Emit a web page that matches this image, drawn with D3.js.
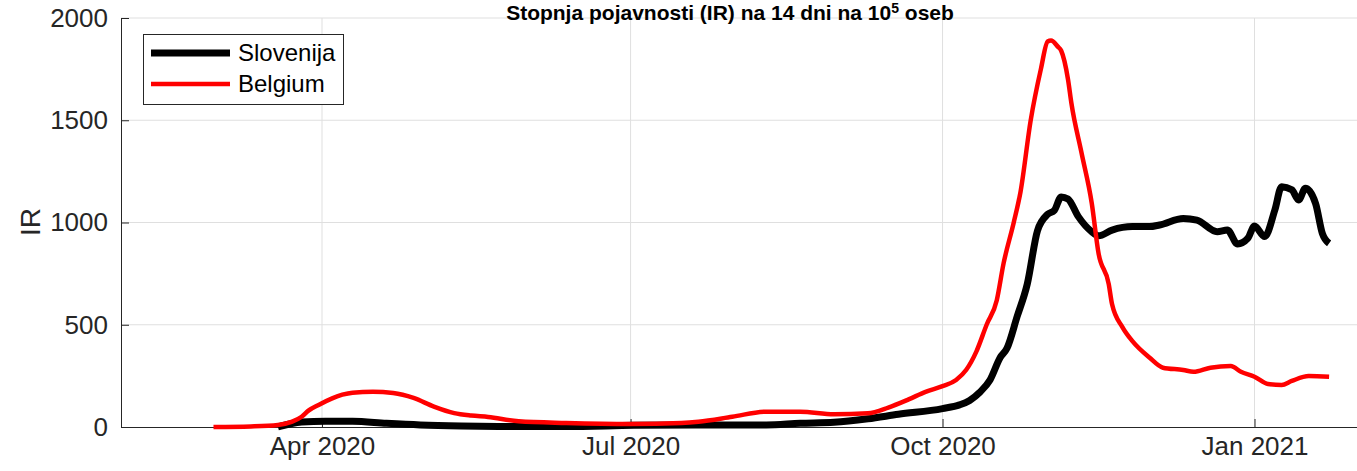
<!DOCTYPE html>
<html>
<head>
<meta charset="utf-8">
<script src="https://cdn.jsdelivr.net/npm/d3@7"></script>
<style>
  body { margin: 0; background: #fff; }
  svg { display: block; font-family: "Liberation Sans", Arial, sans-serif; }
  .tick text { fill: #262626; font-size: 26px; }
  .tick line { stroke: #262626; }
  .domain { stroke: #262626; }
</style>
</head>
<body>
<script>
// data
var sloDates = ["2020-03-19", "2020-03-26", "2020-04-02", "2020-04-10", "2020-04-20", "2020-04-30",
  "2020-05-12", "2020-05-23", "2020-06-12", "2020-07-02", "2020-07-21", "2020-08-10", "2020-08-20",
  "2020-08-30", "2020-09-09", "2020-09-18", "2020-10-01", "2020-10-06", "2020-10-09", "2020-10-12",
  "2020-10-15", "2020-10-18", "2020-10-20", "2020-10-23", "2020-10-26", "2020-10-29", "2020-11-01",
  "2020-11-03", "2020-11-05", "2020-11-07", "2020-11-10", "2020-11-14", "2020-11-16", "2020-11-20",
  "2020-11-26", "2020-12-01", "2020-12-04", "2020-12-11", "2020-12-15", "2020-12-21", "2020-12-24",
  "2020-12-27", "2020-12-30", "2021-01-01", "2021-01-04", "2021-01-07", "2021-01-09", "2021-01-12",
  "2021-01-14", "2021-01-16", "2021-01-19", "2021-01-21", "2021-01-23"];
var sloValues = [0, 24, 28, 28, 18, 10,
  5, 3, 2, 8, 10, 10, 18,
  23, 40, 62, 90, 108, 130, 170,
  230, 340, 385, 540, 700, 960, 1040,
  1060, 1125, 1115, 1030, 955, 935, 963,
  980, 980, 988, 1020, 1012, 955, 963,
  895, 922, 983, 931, 1061, 1175, 1160,
  1110, 1167, 1094, 947, 898];

var belDates = ["2020-02-29", "2020-03-11", "2020-03-19", "2020-03-23", "2020-03-26", "2020-03-28",
  "2020-03-31", "2020-04-04", "2020-04-07", "2020-04-10", "2020-04-16", "2020-04-22", "2020-04-28",
  "2020-05-04", "2020-05-10", "2020-05-15", "2020-05-20", "2020-05-29", "2020-06-12", "2020-07-01",
  "2020-07-16", "2020-07-21", "2020-07-31", "2020-08-10", "2020-08-20", "2020-08-30", "2020-09-09",
  "2020-09-15", "2020-09-21", "2020-09-26", "2020-10-01", "2020-10-05", "2020-10-08", "2020-10-11",
  "2020-10-14", "2020-10-17", "2020-10-19", "2020-10-22", "2020-10-24", "2020-10-27", "2020-10-30",
  "2020-11-01", "2020-11-02", "2020-11-04", "2020-11-05", "2020-11-07", "2020-11-08", "2020-11-11",
  "2020-11-14", "2020-11-16", "2020-11-19", "2020-11-20", "2020-11-23", "2020-11-26", "2020-12-01",
  "2020-12-05", "2020-12-11", "2020-12-14", "2020-12-19", "2020-12-25", "2020-12-28", "2021-01-01",
  "2021-01-05", "2021-01-09", "2021-01-12", "2021-01-17", "2021-01-23"];
var belValues = [0, 3, 10, 25, 50, 80,
  108, 140, 158, 168, 172, 166, 142,
  100, 68, 56, 49, 28, 20, 15,
  20, 26, 50, 75, 75, 62, 67,
  95, 135, 172, 200, 230, 280, 370,
  500, 620, 800, 1000, 1150, 1500, 1750,
  1885, 1890, 1860, 1840, 1700, 1584, 1340,
  1095, 850, 700, 600, 490, 420, 340,
  290, 279, 270, 290, 298, 270, 246,
  210, 205, 225, 249, 246];

var xTicks = ["2020-04-01", "2020-07-01", "2020-10-01", "2021-01-01"];
var yTicks = [0, 500, 1000, 1500, 2000];
var seriesNames = ["Slovenija", "Belgium"];

var svgWidth = 1357;
var svgHeight = 471;

var margin = {
  top: 18,
  right: 0,
  bottom: 44,
  left: 121
};

var width = svgWidth - margin.left - margin.right;
var height = svgHeight - margin.top - margin.bottom;

var parseDate = d3.timeParse("%Y-%m-%d");

var svg = d3.select("body")
  .append("svg")
  .attr("width", svgWidth)
  .attr("height", svgHeight);

var chartGroup = svg.append("g")
  .attr("transform", `translate(${margin.left}, ${margin.top})`);

// x scale: Apr 1 sits at 322px, Jan 1 at 1254.5px in the picture
var xScale = d3.scaleTime()
  .domain([parseDate("2020-04-01"), parseDate("2021-01-01")])
  .range([322 - margin.left, 1254.5 - margin.left]);
xScale.domain([xScale.invert(0), xScale.invert(width + 2)]).range([0, width + 2]);

var yScale = d3.scaleLinear()
  .domain([0, 2000])
  .range([height, 0]);

// grid
chartGroup.append("g")
  .selectAll("line")
  .data(xTicks.map(parseDate))
  .enter()
  .append("line")
  .attr("x1", d => xScale(d))
  .attr("x2", d => xScale(d))
  .attr("y1", 0)
  .attr("y2", height)
  .attr("stroke", "#dfdfdf");

chartGroup.append("g")
  .selectAll("line")
  .data(yTicks.slice(1))
  .enter()
  .append("line")
  .attr("x1", 0)
  .attr("x2", width + 2)
  .attr("y1", d => yScale(d))
  .attr("y2", d => yScale(d))
  .attr("stroke", "#dfdfdf");

// axes, ticks point inwards
var bottomAxis = d3.axisBottom(xScale)
  .tickValues(xTicks.map(parseDate))
  .tickFormat(d3.timeFormat("%b %Y"))
  .tickSize(-8)
  .tickSizeOuter(0)
  .tickPadding(10);

var leftAxis = d3.axisLeft(yScale)
  .tickValues(yTicks)
  .tickFormat(d3.format("d"))
  .tickSize(-8)
  .tickSizeOuter(0)
  .tickPadding(13);

chartGroup.append("g")
  .attr("transform", `translate(0, ${height})`)
  .call(bottomAxis);

chartGroup.append("g")
  .call(leftAxis);

// lines
var sloData = sloDates.map((d, i) => ({ date: parseDate(d), value: sloValues[i] }));
var belData = belDates.map((d, i) => ({ date: parseDate(d), value: belValues[i] }));

var line = d3.line()
  .x(d => xScale(d.date))
  .y(d => yScale(d.value))
  .curve(d3.curveMonotoneX);

chartGroup.append("path")
  .datum(sloData)
  .attr("fill", "none")
  .attr("stroke", "#000")
  .attr("stroke-width", 7)
  .attr("stroke-linejoin", "round")
  .attr("d", line);

chartGroup.append("path")
  .datum(belData)
  .attr("fill", "none")
  .attr("stroke", "#ff0000")
  .attr("stroke-width", 4.5)
  .attr("stroke-linejoin", "round")
  .attr("d", line);

// y label
svg.append("text")
  .attr("transform", "translate(40, 222) rotate(-90)")
  .attr("text-anchor", "middle")
  .attr("fill", "#262626")
  .style("font-size", "28px")
  .text("IR");

// title, kept just inside the top edge
var title = svg.append("text")
  .attr("x", 730)
  .attr("y", 20)
  .attr("text-anchor", "middle")
  .attr("fill", "#000")
  .style("font-size", "21px")
  .style("font-weight", "bold");
title.append("tspan").text("Stopnja pojavnosti (IR) na 14 dni na 10");
title.append("tspan").attr("dy", -7).style("font-size", "14px").text("5");
title.append("tspan").attr("dy", 7).text(" oseb");

// legend
var legend = svg.append("g");
legend.append("rect")
  .attr("x", 143.5)
  .attr("y", 34.5)
  .attr("width", 200)
  .attr("height", 70)
  .attr("fill", "#fff")
  .attr("stroke", "#262626")
  .attr("stroke-width", 1);

var legendColors = ["#000", "#ff0000"];
var legendWidths = [7, 4.5];
seriesNames.forEach(function(name, i) {
  var ly = 53 + i * 31;
  legend.append("line")
    .attr("x1", 151)
    .attr("x2", 230)
    .attr("y1", ly)
    .attr("y2", ly)
    .attr("stroke", legendColors[i])
    .attr("stroke-width", legendWidths[i]);
  legend.append("text")
    .attr("x", 238)
    .attr("y", ly)
    .attr("dy", "0.35em")
    .attr("fill", "#000")
    .style("font-size", "24px")
    .text(name);
});
</script>
</body>
</html>
